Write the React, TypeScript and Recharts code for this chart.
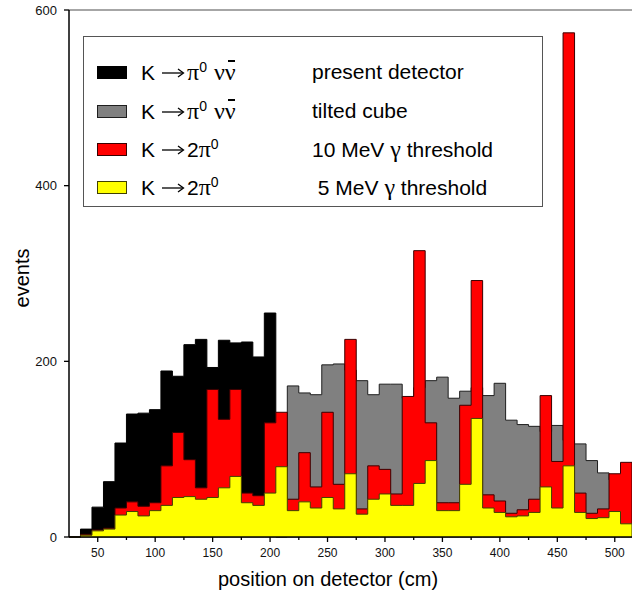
import React from 'react';
import { ComposedChart, Area, XAxis, YAxis, Legend, ReferenceLine, Label } from 'recharts';

// bin centres (cm), 10 cm wide bins
const binCenters = [
  30, 40, 50, 60, 70, 80, 90, 100, 110, 120, 130, 140, 150, 160, 170, 180, 190, 200,
  210, 220, 230, 240, 250, 260, 270, 280, 290, 300, 310, 320, 330, 340, 350, 360,
  370, 380, 390, 400, 410, 420, 430, 440, 450, 460, 470, 480, 490, 500, 510,
];

// K -> pi0 nu nubar, present detector
const presentDetector = [
  0, 9, 34, 63, 107, 140, 141, 145, 189, 183, 219, 225, 193, 224, 221, 222, 205, 255,
  0, 0, 0, 0, 0, 0, 0, 0, 0, 0, 0, 0, 0, 0, 0, 0,
  0, 0, 0, 0, 0, 0, 0, 0, 0, 0, 0, 0, 0, 0, 0,
];

// K -> pi0 nu nubar, tilted cube
const tiltedCube = [
  0, 0, 0, 0, 0, 0, 0, 0, 0, 0, 0, 0, 0, 0, 0, 0, 0, 0,
  0, 172, 164, 162, 196, 197, 190, 178, 162, 174, 174, 158, 170, 178, 182, 158,
  166, 170, 161, 175, 133, 128, 126, 120, 127, 110, 106, 87, 73, 65, 60,
];

// K -> 2pi0, 10 MeV gamma threshold
const threshold10 = [
  0, 3, 8, 10, 33, 40, 35, 39, 81, 119, 88, 56, 168, 134, 168, 50, 47, 130,
  142, 43, 96, 57, 142, 60, 225, 32, 81, 77, 49, 160, 326, 130, 39, 39,
  150, 292, 48, 41, 27, 31, 43, 161, 86, 574, 50, 27, 32, 72, 85,
];

// K -> 2pi0, 5 MeV gamma threshold
const threshold5 = [
  0, 2, 7, 9, 25, 29, 24, 30, 36, 45, 46, 43, 45, 56, 69, 39, 36, 50,
  80, 30, 40, 33, 45, 32, 72, 26, 43, 49, 36, 36, 61, 87, 30, 30,
  60, 135, 33, 28, 23, 24, 28, 57, 33, 81, 28, 21, 22, 29, 15,
];

const xTicks = [50, 75, 100, 125, 150, 175, 200, 225, 250, 275, 300, 325, 350, 375, 400, 425, 450, 475, 500];
const yTicks = [0, 200, 400, 600];

const legendDescriptions = [
  ['present detector', ''],
  ['tilted cube', ''],
  ['10 MeV ', ' threshold'],
  ['\u00a05 MeV ', ' threshold'],
];
const legendDecays = ['nunubar', 'nunubar', '2pi0', '2pi0'];

const FONT = '"Liberation Sans", Arial, Helvetica, sans-serif';
const SYMBOL = '"Liberation Serif", "DejaVu Serif", serif';

const series = [
  { key: 'present', fill: '#000000', stroke: '#000000' },
  { key: 'tilted', fill: '#808080', stroke: '#1e1e1e' },
  { key: 'thr10', fill: '#ff0000', stroke: '#3a0000' },
  { key: 'thr5', fill: '#ffff00', stroke: '#404000' },
];

// histogram steps: one row per bin left edge, then a closing row at the right edge
const rows = [
  ...binCenters.map((c, i) => ({
    edge: c - 5,
    present: presentDetector[i],
    tilted: tiltedCube[i],
    thr10: threshold10[i],
    thr5: threshold5[i],
  })),
  { edge: binCenters[binCenters.length - 1] + 5, present: 0, tilted: 0, thr10: 0, thr5: 0 },
];

const XTick = (props: any) => {
  const { x, y, payload } = props;
  const major = payload.value % 50 === 0;
  return (
    <g>
      <line x1={x} x2={x} y1={y} y2={y + (major ? 5 : 3)} stroke="#000" strokeWidth={1.3} />
      {major && (
        <text x={x} y={y + 20} textAnchor="middle" fontSize={12} fontFamily={FONT} fill="#111">
          {payload.value}
        </text>
      )}
    </g>
  );
};

const sup = { fontSize: 14, verticalAlign: 0, position: 'relative' as const, top: -8 };
const greek = { fontFamily: SYMBOL, fontSize: 24 };

// thin long arrow like the Symbol-font one
const Arrow = () => (
  <svg width={23} height={12} style={{ margin: '0 2px 0 7px', verticalAlign: 1 }}>
    <line x1={0} y1={6} x2={21} y2={6} stroke="#000" strokeWidth={1.3} />
    <polyline points="16,2 21.5,6 16,10" fill="none" stroke="#000" strokeWidth={1.3} />
  </svg>
);

const Decay = ({ type }: { type: string }) =>
  type === 'nunubar' ? (
    <span>
      K<Arrow />
      <span style={greek}>{'\u03c0'}</span>
      <sup style={sup}>0</sup>
      <span style={{ ...greek, marginLeft: 7 }}>{'\u03bd'}</span>
      <span style={{ ...greek, position: 'relative', display: 'inline-block' }}>
        {'\u03bd'}
        <span
          style={{ position: 'absolute', left: 3, top: -1, width: 7, height: 1.5, background: '#000' }}
        />
      </span>
    </span>
  ) : (
    <span>
      K<Arrow />2<span style={greek}>{'\u03c0'}</span>
      <sup style={sup}>0</sup>
    </span>
  );

const rowCenters = [35, 74, 112, 150];

const renderLegend = () => (
  <div
    style={{
      position: 'relative',
      width: 460,
      height: 171,
      boxSizing: 'border-box',
      border: '1.5px solid #555',
      background: '#fff',
      fontFamily: FONT,
      fontSize: 21,
      color: '#000',
    }}
  >
    {series.map((s, i) => (
      <React.Fragment key={s.key}>
        <div
          style={{
            position: 'absolute',
            left: 13,
            top: rowCenters[i] - 6.5,
            width: 30,
            height: 13,
            boxSizing: 'border-box',
            background: s.fill,
            border: `1px solid ${s.stroke}`,
          }}
        />
        <div style={{ position: 'absolute', left: 57, top: rowCenters[i] - 11, lineHeight: '22px', whiteSpace: 'nowrap' }}>
          <Decay type={legendDecays[i]} />
        </div>
        <div style={{ position: 'absolute', left: 228, top: rowCenters[i] - 11, lineHeight: '22px', whiteSpace: 'pre' }}>
          {legendDescriptions[i][0]}
          {i >= 2 && <span style={greek}>{'\u03b3'}</span>}
          {legendDescriptions[i][1]}
        </div>
      </React.Fragment>
    ))}
  </div>
);

export default function App() {
  return (
    <div style={{ position: 'fixed', left: 0, top: 0, background: '#fff' }}>
      <ComposedChart width={637} height={594} data={rows} margin={{ top: 10, right: 5, bottom: 0, left: 0 }}>
        <XAxis
          dataKey="edge"
          type="number"
          domain={[25, 515]}
          ticks={xTicks}
          interval={0}
          allowDataOverflow
          height={57}
          tickLine={false}
          tickSize={0}
          tickMargin={0}
          axisLine={{ stroke: '#000', strokeWidth: 1.5 }}
          tick={<XTick />}
        >
          <Label
            content={() => (
              <text x={328} y={586} textAnchor="middle" fontSize={20} fontFamily={FONT} fill="#000">
                position on detector (cm)
              </text>
            )}
          />
        </XAxis>
        <YAxis
          type="number"
          domain={[0, 600]}
          ticks={yTicks}
          interval={0}
          width={69}
          tickSize={5}
          tickMargin={7}
          axisLine={{ stroke: '#000', strokeWidth: 1.5 }}
          tickLine={{ stroke: '#000', strokeWidth: 1.3 }}
          tick={{ fontSize: 13, fill: '#111', fontFamily: FONT }}
        >
          <Label
            content={() => (
              <text
                x={22}
                y={278}
                textAnchor="middle"
                dominantBaseline="central"
                transform="rotate(-90 22 278)"
                fontSize={20}
                fontFamily={FONT}
                fill="#000"
              >
                events
              </text>
            )}
          />
        </YAxis>
        <ReferenceLine y={600} stroke="#888" strokeWidth={1.5} />
        {series.map((s) => (
          <Area
            key={s.key}
            type="stepAfter"
            dataKey={s.key}
            fill={s.fill}
            fillOpacity={1}
            stroke={s.stroke}
            strokeWidth={1}
            dot={false}
            activeDot={false}
            isAnimationActive={false}
          />
        ))}
        <Legend
          layout="horizontal"
          verticalAlign="middle"
          align="center"
          wrapperStyle={{ left: 83, top: 36, width: 460, height: 171 }}
          content={renderLegend}
        />
      </ComposedChart>
    </div>
  );
}
